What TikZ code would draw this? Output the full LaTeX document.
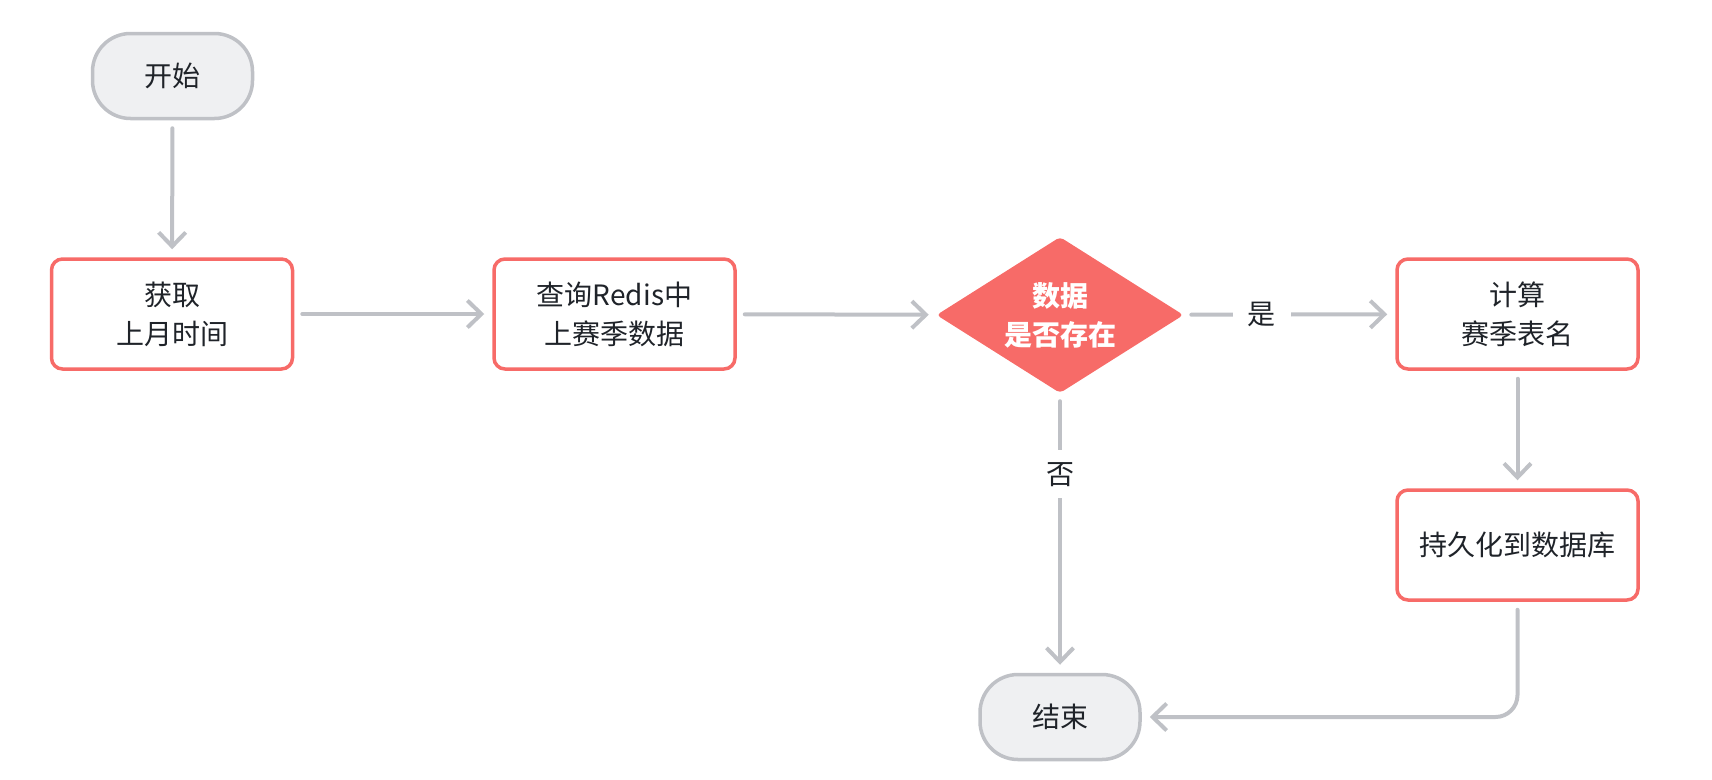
\documentclass[tikz,border=0pt]{standalone}
\usepackage{fontspec}
\setmainfont{Noto Sans CJK SC}
\usetikzlibrary{arrows.meta,shapes.geometric}
\definecolor{redb}{HTML}{F76B68}
\definecolor{greyb}{HTML}{BFC1C6}
\definecolor{greyf}{HTML}{EFF0F2}
\definecolor{txt}{HTML}{1F2329}
\begin{document}
\begin{tikzpicture}[x=1pt,y=-1pt,
  every node/.style={font={\fontsize{28}{39}\selectfont}, text=txt, align=center},
  term/.style={draw=greyb, fill=greyf, line width=3.5pt, rounded corners=38pt,
    minimum width=160pt, minimum height=85pt, inner sep=0pt},
  proc/.style={draw=redb, fill=white, line width=3.5pt, rounded corners=11pt,
    minimum width=241pt, minimum height=110pt, inner sep=0pt},
  dec/.style={diamond, aspect=1.6, fill=redb, rounded corners=4pt, minimum width=247pt,
    minimum height=156pt, inner sep=0pt, text=white,
    font={\fontsize{28}{39}\selectfont\bfseries}},
  arr/.style={draw=greyb, line width=4pt, line cap=round,
    -{Straight Barb[length=14pt,width=27pt,line width=4pt]},
    shorten <=8pt, shorten >=8pt},
  lab/.style={fill=white, inner sep=0pt, minimum width=58pt, minimum height=48pt}
]
\useasboundingbox (0,0) rectangle (1712,779);

\node[term] (start) at (172.5,76) {开始};
\node[proc] (n1) at (172,314) {获取\\上月时间};
\node[proc] (n2) at (614.5,314) {查询Redis中\\上赛季数据};
\node[dec]  (dia) at (1060,315) {数据\\是否存在};
\node[proc] (n3) at (1517.5,314) {计算\\赛季表名};
\node[proc] (n4) at (1517.5,545) {持久化到数据库};
\node[term] (end) at (1060,717) {结束};

\draw[arr] (start) -- (n1);
\draw[arr] (n1) -- (n2);
\draw[arr] (n2) -- (dia);
\draw[arr] (dia) -- node[lab, pos=0.37] {是} (n3);
\draw[arr] (dia) -- node[lab, pos=0.29] {否} (end);
\draw[arr] (n3) -- (n4);
\draw[arr, rounded corners=22pt] (n4) |- (end);
\end{tikzpicture}
\end{document}
